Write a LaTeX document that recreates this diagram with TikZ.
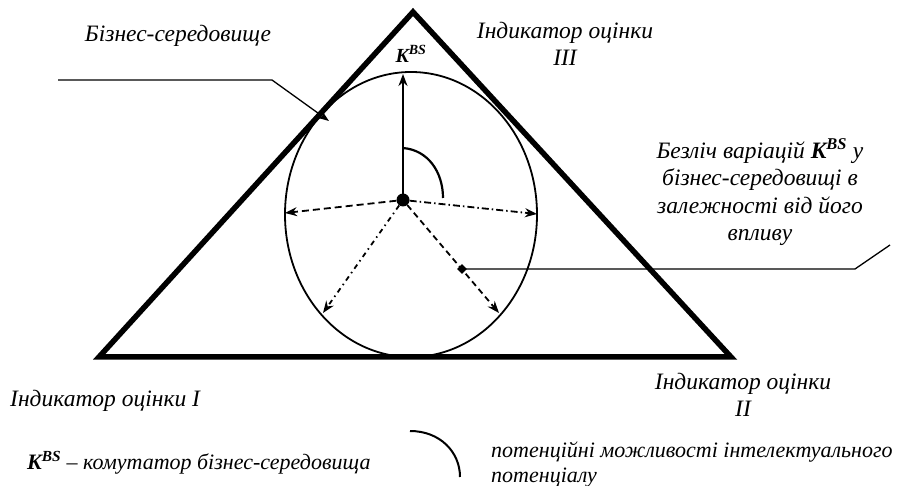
\documentclass[tikz,border=0pt]{standalone}
\usepackage{fontspec}
\setmainfont{Liberation Serif}
\usetikzlibrary{arrows.meta,shapes.geometric}
\begin{document}
\begin{tikzpicture}[x=1pt,y=-1pt,
  lbl/.style={font=\fontsize{23.5}{27.5}\selectfont\itshape, align=center, inner sep=0pt},
  leg/.style={font=\fontsize{22}{25}\selectfont\itshape, align=left, inner sep=0pt},
  tri/.style={line width=5.5pt, line join=miter},
  ell/.style={line width=1.8pt},
  ray/.style={line width=1.8pt, -{Stealth[length=12pt,width=9pt]}},
  ptr/.style={line width=1.3pt}]
\useasboundingbox (0,0) rectangle (898,486);
% triangle
\coordinate (A) at (413,12);
\coordinate (B) at (99,357);
\coordinate (D) at (731,357);
\draw[tri] (A) -- (D) -- (B) -- cycle;
% ellipse
\coordinate (E) at (411,214.5);
\draw[ell] (E) ellipse [x radius=126, y radius=142.5];
% centre and rays
\node[circle, fill, inner sep=0pt, minimum size=13pt] (C) at (403,200) {};
\coordinate (T) at (403,74);
\coordinate (L) at (285,213);
\coordinate (R) at (537,214);
\coordinate (LL) at (323,313);
\coordinate (LR) at (499,313);
\draw[ray, line width=2.8pt] (C.center) -- (T);
\draw[ray, dash pattern=on 7pt off 4pt] (C) -- (L);
\draw[ray, dash pattern=on 7pt off 3pt on 1.5pt off 3pt] (C) -- (R);
\draw[ray, dash pattern=on 5pt off 4pt on 1.5pt off 4pt] (C) -- (LL);
\draw[ray, dash pattern=on 6pt off 4pt] (C) -- (LR);
% arc
\coordinate (a1) at (403,148);
\coordinate (a2) at (443,198);
\draw[line width=2.2pt] (a1) .. controls (428,150) and (443,172) .. (a2);
\node[font=\fontsize{20}{24}\selectfont\bfseries\itshape, inner sep=0pt] (K) at (411,54) {K\textsuperscript{BS}};
% left pointer
\coordinate (p0) at (58,80);
\coordinate (p1) at (272,80);
\coordinate (p2) at (329,121);
\draw[ptr, -{Stealth[length=11pt,width=8pt]}] (p0) -- (p1) -- (p2);
% right pointer
\node[diamond, fill, inner sep=0pt, minimum size=10pt] (m) at (462,269) {};
\coordinate (q1) at (855,269);
\coordinate (q2) at (890,245);
\draw[ptr] (m.center) -- (q1) -- (q2);
% labels
\node[lbl] (biz) at (178,36) {Бізнес-середовище};
\node[lbl] (ind3) at (565,44) {Індикатор оцінки\\III};
\node[lbl] (bez) at (760,192) {Безліч варіацій \textbf{K\textsuperscript{BS}} у\\бізнес-середовищі в\\залежності від його\\впливу};
\node[lbl, anchor=west] (ind1) at (10,401) {Індикатор оцінки I};
\node[lbl] (ind2) at (743,395) {Індикатор оцінки\\II};
\node[leg, anchor=west] (kleg) at (27,463) {\textbf{K\textsuperscript{BS}} – комутатор бізнес-середовища};
% legend arc
\coordinate (b1) at (410,431);
\coordinate (b2) at (460,477);
\draw[line width=2pt] (b1) .. controls (440,431) and (460,452) .. (b2);
\node[leg, anchor=west] (pot) at (491,465) {потенційні можливості інтелектуального\\потенціалу};
\end{tikzpicture}
\end{document}
